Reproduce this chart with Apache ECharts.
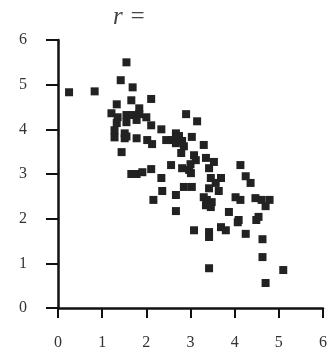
<!DOCTYPE html>
<html>
<head>
<meta charset="utf-8">
<script src="https://cdn.jsdelivr.net/npm/echarts@6/dist/echarts.min.js"></script>
<style>
  html,body{margin:0;padding:0;background:#fff;}
  #main{width:330px;height:357px;}
</style>
</head>
<body>
<div id="main"></div>
<script>
// 散点数据 (x, y)
var xs = [0.25,0.83,1.55,1.42,1.69,2.11,1.66,1.33,2.90,3.15,
          1.21,1.35,1.55,1.69,1.84,1.78,2.00,1.33,1.55,2.11,
          1.28,1.51,2.34,2.67,1.51,1.78,2.02,2.13,2.45,2.58,
          2.74,2.67,2.81,3.03,2.85,3.30,1.44,2.79,3.08,3.35,
          3.12,3.53,2.56,2.81,2.97,3.01,3.42,4.13,1.66,1.78,
          1.91,2.11,3.46,3.69,4.25,4.36,2.34,3.57,3.42,2.85,
          3.03,2.36,2.67,3.64,3.30,3.37,3.48,3.35,3.46,4.02,
          4.13,4.47,4.61,4.79,4.70,2.16,2.67,3.87,4.09,4.54,
          3.08,3.42,3.42,3.69,3.80,4.07,4.25,4.49,4.63,4.63,
          3.42,5.10,4.70,1.84,1.28,1.55,3.00];
var ys = [4.83,4.85,5.50,5.10,4.94,4.68,4.65,4.56,4.34,4.18,
          4.36,4.27,4.32,4.32,4.34,4.21,4.27,4.14,4.16,4.09,
          3.98,3.91,4.00,3.91,3.80,3.80,3.76,3.67,3.76,3.76,
          3.85,3.69,3.74,3.83,3.62,3.65,3.49,3.47,3.42,3.36,
          3.31,3.27,3.20,3.13,3.09,3.02,3.13,3.20,3.00,3.00,
          3.04,3.11,2.91,2.91,2.95,2.80,2.91,2.80,2.68,2.71,
          2.71,2.62,2.53,2.62,2.48,2.42,2.37,2.30,2.26,2.48,
          2.42,2.46,2.42,2.42,2.28,2.42,2.17,2.15,1.97,2.04,
          1.74,1.70,1.59,1.81,1.74,1.92,1.66,1.97,1.54,1.14,
          0.89,0.85,0.56,4.47,3.82,3.84,3.22];
var xTicks = [0,1,2,3,4,5,6];
var yTicks = [0,1,2,3,4,5,6];

var pts = xs.map(function(x,i){ return [x, ys[i]]; });
var font = 'Liberation Serif';

var chart = echarts.init(document.getElementById('main'));
chart.setOption({
  animation:false,
  backgroundColor:'#fff',
  title:{
    text:'r =',
    left:108, top:0,
    textStyle:{fontFamily:font, fontStyle:'italic', fontWeight:'normal', fontSize:25, color:'#444'}
  },
  grid:{left:58, right:5, top:40, bottom:49},
  xAxis:{
    type:'value', min:xTicks[0], max:xTicks[xTicks.length-1], interval:1,
    offset:9,
    axisLine:{lineStyle:{color:'#111', width:2.5}},
    axisTick:{show:true, length:10, lineStyle:{color:'#111', width:2}},
    axisLabel:{margin:18, fontFamily:font, fontSize:16, color:'#333'},
    splitLine:{show:false}
  },
  yAxis:{
    type:'value', min:yTicks[0], max:yTicks[yTicks.length-1], interval:1,
    offset:9,
    axisLine:{show:true, lineStyle:{color:'#111', width:2.5}},
    axisTick:{show:true, length:12, lineStyle:{color:'#111', width:2}},
    axisLabel:{margin:22, fontFamily:font, fontSize:16, color:'#333'},
    splitLine:{show:false}
  },
  series:[{
    type:'scatter',
    symbol:'rect',
    symbolSize:8,
    data:pts,
    itemStyle:{color:'#222', opacity:1}
  }]
});
</script>
</body>
</html>
